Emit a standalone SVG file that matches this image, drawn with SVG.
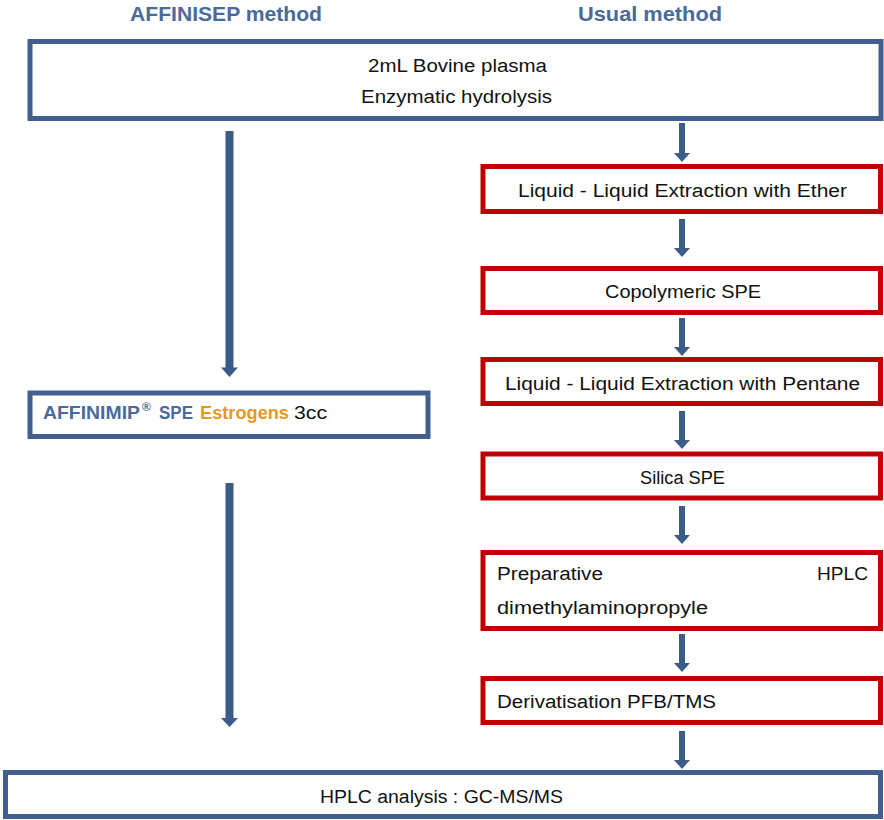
<svg xmlns="http://www.w3.org/2000/svg" width="884" height="820" viewBox="0 0 884 820">
<style>
  .bbox { fill: #ffffff; stroke: #41608F; stroke-width: 5; }
  .rbox { fill: #ffffff; stroke: #C00000; stroke-width: 5; }
  .arrow { fill: #3B5B88; stroke: none; }
  text { font-family: "Liberation Sans", Arial, sans-serif; }
  .hdr { font-size: 20px; font-weight: bold; fill: #4A6A9C; }
  .t { font-size: 18px; fill: #111111; }
  .bb { font-weight: bold; fill: #4A6A9C; }
  .or { font-weight: bold; fill: #E39A1F; }
</style>
<rect width="884" height="820" fill="#ffffff"/>
<g id="headers">
  <text class="hdr" x="130" y="21" textLength="192" lengthAdjust="spacingAndGlyphs">AFFINISEP method</text>
  <text class="hdr" x="578" y="21" textLength="144" lengthAdjust="spacingAndGlyphs">Usual method</text>
</g>
<g id="connectors">
  <path class="arrow" d="M225.5,131 H233.5 V367.5 H238 L229.5,377 L221,367.5 H225.5 Z"/>
  <path class="arrow" d="M225.5,483 H233.5 V718 H238 L229.5,727 L221,718 H225.5 Z"/>
  <path class="arrow" d="M679,123 H685 V153 H690 L682,162 L674,153 H679 Z"/>
  <path class="arrow" d="M679,219 H685 V248 H690 L682,257 L674,248 H679 Z"/>
  <path class="arrow" d="M679,318 H685 V347 H690 L682,356 L674,347 H679 Z"/>
  <path class="arrow" d="M679,411 H685 V440 H690 L682,449 L674,440 H679 Z"/>
  <path class="arrow" d="M679,506 H685 V535 H690 L682,544 L674,535 H679 Z"/>
  <path class="arrow" d="M679,634 H685 V663 H690 L682,672 L674,663 H679 Z"/>
  <path class="arrow" d="M679,731 H685 V760 H690 L682,769 L674,760 H679 Z"/>
</g>
<g id="plasma">
  <rect class="bbox" x="30" y="41.5" width="851" height="77"/>
  <text class="t" x="368" y="72" textLength="179" lengthAdjust="spacingAndGlyphs">2mL Bovine plasma</text>
  <text class="t" x="361" y="103" textLength="191" lengthAdjust="spacingAndGlyphs">Enzymatic hydrolysis</text>
</g>
<g id="affinimip">
  <rect class="bbox" x="30" y="393" width="398" height="43.5"/>
  <text class="t" y="419"><tspan class="bb" x="43" textLength="97" lengthAdjust="spacingAndGlyphs">AFFINIMIP</tspan><tspan class="bb" x="142" y="411" font-size="12">®</tspan><tspan class="bb" x="159" y="419" textLength="34" lengthAdjust="spacingAndGlyphs">SPE</tspan><tspan class="or" x="200" textLength="89" lengthAdjust="spacingAndGlyphs">Estrogens</tspan><tspan x="294" textLength="33" lengthAdjust="spacingAndGlyphs">3cc</tspan></text>
</g>
<g id="lle-ether">
  <rect class="rbox" x="483" y="166.5" width="397.5" height="45"/>
  <text class="t" x="518" y="197" textLength="329" lengthAdjust="spacingAndGlyphs">Liquid - Liquid Extraction with Ether</text>
</g>
<g id="copolymeric">
  <rect class="rbox" x="483" y="268.5" width="397.5" height="44"/>
  <text class="t" x="605" y="298" textLength="156" lengthAdjust="spacingAndGlyphs">Copolymeric SPE</text>
</g>
<g id="lle-pentane">
  <rect class="rbox" x="483" y="359.5" width="397.5" height="44"/>
  <text class="t" x="505" y="390" textLength="355" lengthAdjust="spacingAndGlyphs">Liquid - Liquid Extraction with Pentane</text>
</g>
<g id="silica">
  <rect class="rbox" x="483" y="454" width="397.5" height="44"/>
  <text class="t" x="640" y="484" textLength="85" lengthAdjust="spacingAndGlyphs">Silica SPE</text>
</g>
<g id="prep-hplc">
  <rect class="rbox" x="483" y="552.5" width="397.5" height="76"/>
  <text class="t" y="580"><tspan x="497" textLength="106" lengthAdjust="spacingAndGlyphs">Preparative</tspan><tspan x="817" textLength="51" lengthAdjust="spacingAndGlyphs">HPLC</tspan></text>
  <text class="t" x="497" y="614" textLength="211" lengthAdjust="spacingAndGlyphs">dimethylaminopropyle</text>
</g>
<g id="derivatisation">
  <rect class="rbox" x="483" y="678.5" width="397.5" height="44"/>
  <text class="t" x="497" y="708" textLength="219" lengthAdjust="spacingAndGlyphs">Derivatisation PFB/TMS</text>
</g>
<g id="analysis">
  <rect class="bbox" x="5.5" y="772.5" width="875" height="44"/>
  <text class="t" x="320" y="803" textLength="243" lengthAdjust="spacingAndGlyphs">HPLC analysis : GC-MS/MS</text>
</g>
</svg>
